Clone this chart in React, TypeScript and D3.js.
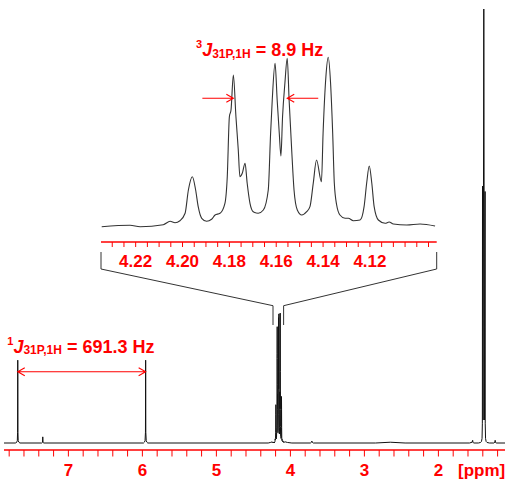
import React, { useRef, useEffect } from "react";
import * as d3 from "d3";

const axisLabels = [7, 6, 5, 4, 3, 2]
const insetLabels = [4.22, 4.20, 4.18, 4.16, 4.14, 4.12]

// trace left of the OCH2 multiplet: P-H doublet and a small impurity
const leftPpm = [7.87, 7.71, 7.698, 7.69, 7.6865, 7.684, 7.6815, 7.678, 7.67, 7.655, 7.36, 7.35, 7.346, 7.342, 7.332, 5.985, 5.972, 5.964, 5.9585, 5.956, 5.9535, 5.948, 5.94, 5.927, 4.30, 4.265, 4.245]
const leftInt = [0, 0, 1.2, 3, 14, 108, 14, 3, 1.2, 0, 0, 0.8, 8, 0.8, 0, 0, 1.2, 3, 14, 108, 14, 3, 1.2, 0, 0, 0.8, 1.5]

// OCH2 multiplet (also shown in the inset)
const multPpm = [4.2345, 4.2224, 4.2181, 4.2082, 4.2053, 4.2032, 4.2011, 4.1989, 4.1975, 4.1958, 4.1944, 4.1933, 4.1918, 4.1897, 4.1876, 4.1861, 4.1840, 4.1819, 4.1809, 4.1800, 4.1793, 4.1783, 4.1772, 4.1762, 4.1755, 4.1745, 4.1733, 4.1724, 4.1712, 4.1698, 4.1677, 4.1655, 4.1634, 4.1624, 4.1617, 4.1605, 4.1596, 4.1587, 4.1580, 4.1573, 4.1563, 4.1553, 4.1545, 4.1534, 4.1524, 4.1510, 4.1491, 4.1470, 4.1456, 4.1442, 4.1428, 4.1407, 4.1400, 4.1388, 4.1378, 4.1368, 4.1359, 4.1352, 4.1342, 4.1328, 4.1306, 4.1292, 4.1271, 4.1242, 4.1225, 4.1214, 4.1203, 4.1192, 4.1182, 4.1164, 4.1135, 4.1118, 4.1100, 4.1043, 4.0986, 4.0922]
const multInt = [0, 1.4, 0, 2, 5.4, 4, 6, 13.4, 36.7, 50, 36.7, 20, 8.4, 5.4, 7.4, 11.7, 13.4, 23.4, 50, 110, 116.7, 151.7, 110, 76.7, 50, 53.4, 63.4, 43.4, 23.4, 15, 13.4, 16.7, 36.7, 93.4, 126.7, 163.4, 126.7, 93.4, 70.7, 110, 143.4, 168.4, 126.7, 76.7, 36.7, 16.7, 11.7, 15, 20, 43.4, 66.7, 45, 93.4, 150, 169.4, 143.4, 93.4, 43.4, 21.7, 11.7, 8.4, 8.4, 6, 6.7, 20, 43.4, 60.7, 43.4, 20, 6.7, 3.4, 4.7, 2.7, 1.7, 2.7, 0.7]

// trace right of the multiplet: small peaks and the CH3 triplet
const rightPpm = [4.085, 4.07, 4.04, 3.98, 3.73, 3.715, 3.71, 3.705, 3.69, 2.85, 2.65, 2.45, 1.58, 1.545, 1.537, 1.533, 1.525, 1.46, 1.43, 1.418, 1.41, 1.406, 1.404, 1.396, 1.3865, 1.377, 1.369, 1.367, 1.363, 1.355, 1.343, 1.31, 1.25, 1.237, 1.233, 1.229, 1.22, 1.10]
const rightInt = [1, 1.5, 0.7, 0, 0, 1, 2.5, 1, 0, 0, 1, 0, 0, 1, 3.5, 1, 0, 0, 0.7, 2, 6, 25, 335, 30, 566, 30, 328, 25, 6, 2, 0.7, 0, 0, 1, 3.5, 1, 0, 0]

const doubletPpm = [7.684, 5.956]
const tripletArrowPpm = [4.1783, 4.1553]

const font = "Arial, 'Liberation Sans', sans-serif"
const red = '#ff0000'

const App = () => {
    const chart = useRef(null)

    useEffect(() => {
        const svg = d3.select(chart.current)
        svg.selectAll('*').remove()

        const x = d3.scaleLinear().domain([7.87, 1.10]).range([4, 505])
        const y = d3.scaleLinear().domain([0, 566]).range([443, 9])
        const xi = d3.scaleLinear().domain([4.2348, 4.0915]).range([101, 436.7])
        const yi = d3.scaleLinear().domain([0, 168.4]).range([226.7, 58.3])

        const mainPts = [
            ...leftPpm.map((p, i) => [p, leftInt[i]]),
            ...multPpm.map((p, i) => [p, multInt[i]]),
            ...rightPpm.map((p, i) => [p, rightInt[i]])
        ]
        const insetPts = multPpm.map((p, i) => [p, multInt[i]])

        // main spectrum
        svg.append('path')
            .attr('d', d3.line().x(d => x(d[0])).y(d => y(d[1]))(mainPts))
            .attr('fill', 'none')
            .attr('stroke', '#111')
            .attr('stroke-width', 1)

        // inset spectrum
        svg.append('path')
            .attr('d', d3.line().x(d => xi(d[0])).y(d => yi(d[1])).curve(d3.curveMonotoneX)(insetPts))
            .attr('fill', 'none')
            .attr('stroke', '#333')
            .attr('stroke-width', 1.1)

        // main axis
        const ax = svg.append('g')
        ax.append('line')
            .attr('x1', 4).attr('x2', 505).attr('y1', 450).attr('y2', 450)
            .attr('stroke', red).attr('stroke-width', 1.5)
        ax.selectAll('.tk')
            .data(d3.range(6, 40).map(i => i / 5))
            .join('line')
            .attr('x1', d => x(d)).attr('x2', d => x(d))
            .attr('y1', 450).attr('y2', 456.5)
            .attr('stroke', red).attr('stroke-width', 1)
        ax.selectAll('text')
            .data(axisLabels)
            .join('text')
            .attr('x', d => x(d)).attr('y', 476)
            .attr('text-anchor', 'middle')
            .attr('font-family', font).attr('font-weight', 'bold').attr('font-size', 17)
            .attr('fill', red)
            .text(d => d)
        ax.append('text')
            .attr('x', 458).attr('y', 476)
            .attr('font-family', font).attr('font-weight', 'bold').attr('font-size', 17)
            .attr('fill', red)
            .text('[ppm]')

        // inset axis
        const ai = svg.append('g')
        ai.append('line')
            .attr('x1', 101).attr('x2', 436.7).attr('y1', 242).attr('y2', 242)
            .attr('stroke', red).attr('stroke-width', 1.5)
        ai.selectAll('.tk')
            .data(d3.range(819, 847).map(i => i / 200))
            .join('line')
            .attr('x1', d => xi(d)).attr('x2', d => xi(d))
            .attr('y1', 242).attr('y2', 247)
            .attr('stroke', red).attr('stroke-width', 1)
        ai.selectAll('text')
            .data(insetLabels)
            .join('text')
            .attr('x', d => xi(d)).attr('y', 266.5)
            .attr('text-anchor', 'middle')
            .attr('font-family', font).attr('font-weight', 'bold').attr('font-size', 17)
            .attr('fill', red)
            .text(d => d.toFixed(2))

        // zoom bracket
        const [d0, d1] = xi.domain()
        const [r0, r1] = xi.range()
        svg.append('path')
            .attr('d', `M${r0},252V269L${x(d0)},305.7V325M${r1},252V269L${x(d1)},305.7V325`)
            .attr('fill', 'none')
            .attr('stroke', '#333')
            .attr('stroke-width', 1)

        const head = (tx, ty, dir) => `M${tx - dir * 7},${ty - 4}L${tx},${ty}L${tx - dir * 7},${ty + 4}`

        // 3J arrows
        const ya = 98.3
        const la = xi(tripletArrowPpm[0]), ra = xi(tripletArrowPpm[1])
        svg.append('path')
            .attr('d', `M${la - 31},${ya}H${la}${head(la, ya, 1)}M${ra + 31},${ya}H${ra}${head(ra, ya, -1)}`)
            .attr('fill', 'none').attr('stroke', red).attr('stroke-width', 1.1)

        // 1J arrow
        const yb = 371.7
        const da = x(doubletPpm[0]), db = x(doubletPpm[1])
        svg.append('path')
            .attr('d', `M${da},${yb}H${db}${head(db, yb, 1)}${head(da, yb, -1)}`)
            .attr('fill', 'none').attr('stroke', red).attr('stroke-width', 1.1)

        const jLabel = (tx, ty, sup, val) => {
            const t = svg.append('text')
                .attr('x', tx).attr('y', ty)
                .attr('font-family', font).attr('font-weight', 'bold')
                .attr('fill', red)
                .style('white-space', 'pre')
            t.append('tspan').attr('font-size', 11).attr('dy', -7.7).text(sup)
            t.append('tspan').attr('font-size', 18).attr('font-style', 'italic').attr('dy', 7.7).text('J')
            t.append('tspan').attr('font-size', 12).attr('dy', 1.5).text('31P,1H')
            t.append('tspan').attr('font-size', 18).attr('dy', -1.5).text(' = ' + val + ' Hz')
        }
        jLabel(196, 56, '3', '8.9')
        jLabel(7.3, 352.5, '1', '691.3')
    }, [])

    return (
        <svg ref={chart} width={512} height={486}
            style={{ position: 'absolute', left: 0, top: 0, background: '#fff' }} />
    )
}

export default App
